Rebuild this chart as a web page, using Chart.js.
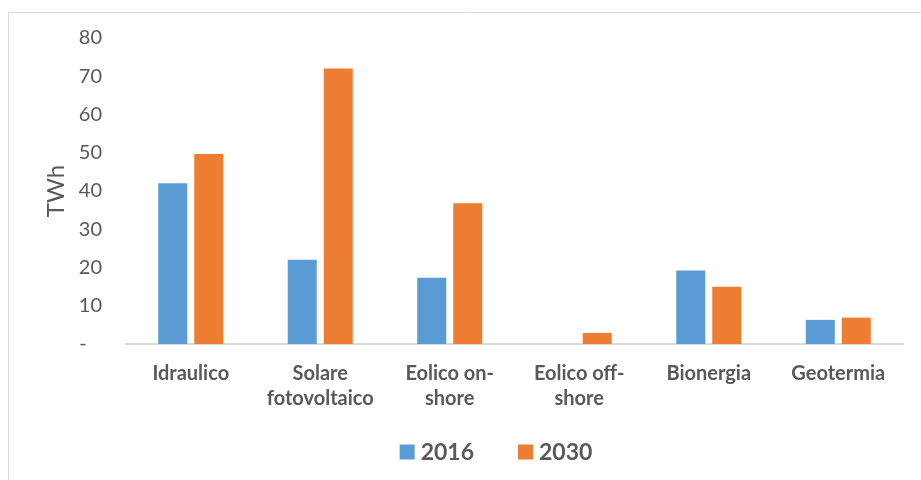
<!DOCTYPE html>
<html>
<head>
<meta charset="utf-8">
<script src="https://cdn.jsdelivr.net/npm/chart.js@4/dist/chart.umd.min.js"></script>
<style>
    html, body { margin: 0; padding: 0; background: #fff; }
    #wrap { position: relative; width: 921px; height: 480px; }
</style>
</head>
<body>
<div id="wrap"><canvas id="energyChart" width="921" height="480"></canvas></div>
<script>
// Produzione rinnovabile per fonte (TWh)
const categories = [
    ['Idraulico'],
    ['Solare', 'fotovoltaico'],
    ['Eolico on-', 'shore'],
    ['Eolico off-', 'shore'],
    ['Bionergia'],
    ['Geotermia']
];
const seriesNames = ['2016', '2030'];
const values2016 = [42, 22, 17.3, 0, 19.2, 6.3];
const values2030 = [49.7, 72, 36.8, 2.9, 15, 6.9];
const yTicks = [0, 10, 20, 30, 40, 50, 60, 70, 80];

const colors = ['#5B9BD5', '#ED7D31'];
const textColor = '#595959';
const fontFamily = 'Lato, "Open Sans", sans-serif';

// White background plus the light frame on the top and left edges
const framePlugin = {
    id: 'frame',
    beforeDraw(chart) {
        const ctx = chart.ctx;
        ctx.save();
        ctx.fillStyle = '#ffffff';
        ctx.fillRect(0, 0, chart.width, chart.height);
        ctx.strokeStyle = '#d9d9d9';
        ctx.lineWidth = 1;
        ctx.beginPath();
        ctx.moveTo(8.5, chart.height);
        ctx.lineTo(8.5, 12.5);
        ctx.lineTo(chart.width, 12.5);
        ctx.stroke();
        ctx.restore();
    }
};

// Legend drawn by hand so it can sit where the original one sits
const legendPlugin = {
    id: 'simpleLegend',
    afterDraw(chart) {
        const ctx = chart.ctx;
        const box = 15, gap = 6, itemGap = 44;
        const centerX = 496, centerY = 452;
        ctx.save();
        ctx.font = 'bold 23px ' + fontFamily;
        ctx.textBaseline = 'middle';
        const items = chart.data.datasets.map(ds => ({
            label: ds.label,
            color: ds.backgroundColor,
            w: box + gap + ctx.measureText(ds.label).width
        }));
        const total = items.reduce((s, it) => s + it.w, 0) + itemGap * (items.length - 1);
        let x = centerX - total / 2;
        items.forEach(it => {
            ctx.fillStyle = it.color;
            ctx.fillRect(x, centerY - box / 2, box, box);
            ctx.fillStyle = textColor;
            ctx.fillText(it.label, x + box + gap, centerY + 1);
            x += it.w + itemGap;
        });
        ctx.restore();
    }
};

const ctx = document.getElementById('energyChart').getContext('2d');
new Chart(ctx, {
    type: 'bar',
    data: {
        labels: categories,
        datasets: [{
            label: seriesNames[0],
            data: values2016,
            backgroundColor: colors[0]
        }, {
            label: seriesNames[1],
            data: values2030,
            backgroundColor: colors[1]
        }]
    },
    options: {
        responsive: false,
        animation: false,
        devicePixelRatio: 1,
        layout: {
            padding: { left: 42, right: 18, top: 38, bottom: 70 }
        },
        datasets: {
            bar: {
                categoryPercentage: 0.556,
                barPercentage: 0.806
            }
        },
        plugins: {
            legend: { display: false },
            tooltip: { enabled: false }
        },
        scales: {
            x: {
                grid: { display: false, drawTicks: false },
                border: { display: true, color: '#d9d9d9', width: 2 },
                afterFit(axis) {
                    axis.height = 66;
                },
                ticks: {
                    color: textColor,
                    padding: 17,
                    maxRotation: 0,
                    autoSkip: false,
                    font: { family: fontFamily, size: 20, weight: 'bold', lineHeight: 1.25 }
                }
            },
            y: {
                min: 0,
                max: 80,
                afterBuildTicks(axis) {
                    axis.ticks = yTicks.map(v => ({ value: v }));
                },
                afterFit(axis) {
                    axis.width = 84;
                },
                grid: { display: false, drawTicks: false },
                border: { display: false },
                title: {
                    display: true,
                    text: 'TWh',
                    color: textColor,
                    padding: { top: 0, bottom: 10 },
                    font: { family: fontFamily, size: 24 }
                },
                ticks: {
                    color: textColor,
                    padding: 24,
                    font: { family: fontFamily, size: 20 },
                    callback: v => (v === 0 ? '-   ' : String(v))
                }
            }
        }
    },
    plugins: [framePlugin, legendPlugin]
});
</script>
</body>
</html>
